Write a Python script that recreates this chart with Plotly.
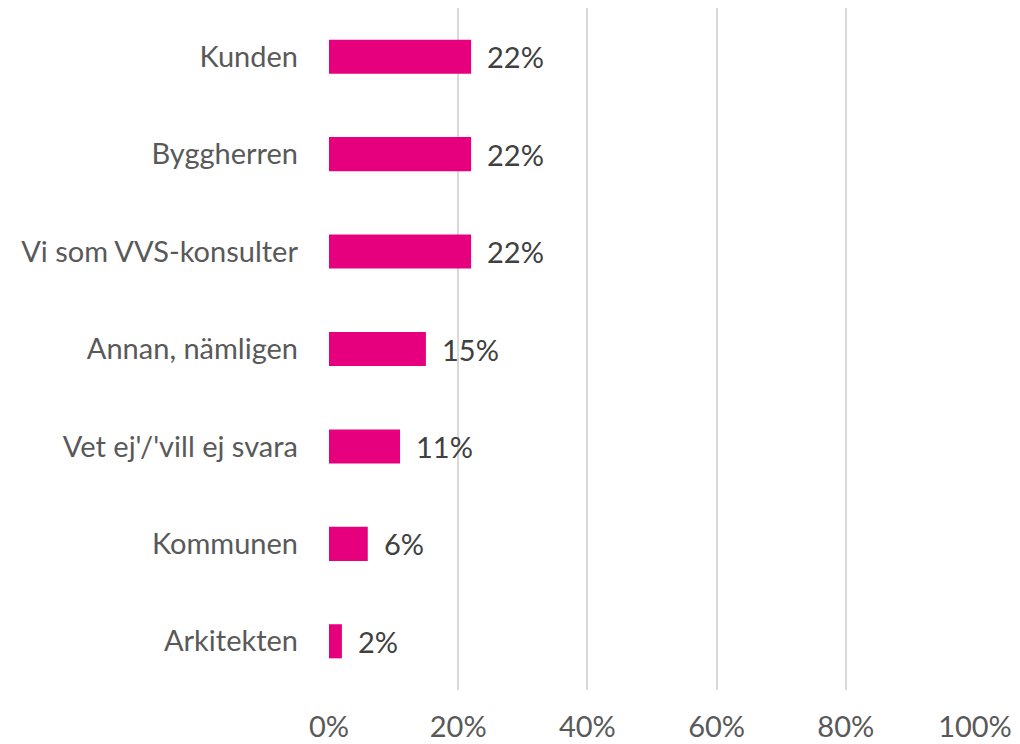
import plotly.graph_objects as go

categories = ["Kunden", "Byggherren", "Vi som VVS-konsulter", "Annan, nämligen",
              "Vet ej'/'vill ej svara", "Kommunen", "Arkitekten"]
values = [22, 22, 22, 15, 11, 6, 2]
tick_vals = [0, 20, 40, 60, 80, 100]
tick_text = ["0%", "20%", "40%", "60%", "80%", "100%"]

FONT = "Lato"
SIZE = 29
fig = go.Figure()
fig.add_trace(go.Bar(
    x=values, y=categories, orientation="h",
    marker=dict(color="#E6007E", line=dict(width=0)),
    width=0.35,
))
for c, v in zip(categories, values):
    fig.add_annotation(x=v, y=c, text=f"{v}%", showarrow=False,
                       xanchor="left", xshift=14,
                       font=dict(family=FONT, size=SIZE, color="#404040"))

# page body has an 8px margin, so the figure is sized/offset to compensate
fig.update_layout(
    width=1012, height=736,
    margin=dict(l=321, r=45, t=0, b=54),
    paper_bgcolor="white", plot_bgcolor="white",
    showlegend=False,
    font=dict(family=FONT, size=SIZE, color="#595959"),
    xaxis=dict(range=[0, 100], tickvals=tick_vals, ticktext=tick_text,
               showgrid=True, gridcolor="#D9D9D9", gridwidth=2,
               zeroline=False, showline=False, ticks="",
               ticklabelstandoff=17, automargin=False,
               tickfont=dict(family=FONT, size=SIZE, color="#595959")),
    yaxis=dict(autorange="reversed", categoryorder="array", categoryarray=categories,
               showgrid=False, zeroline=False, showline=False, ticks="",
               ticklabelstandoff=30, automargin=False,
               tickfont=dict(family=FONT, size=SIZE, color="#595959")),
)
fig.write_html("out.html")
